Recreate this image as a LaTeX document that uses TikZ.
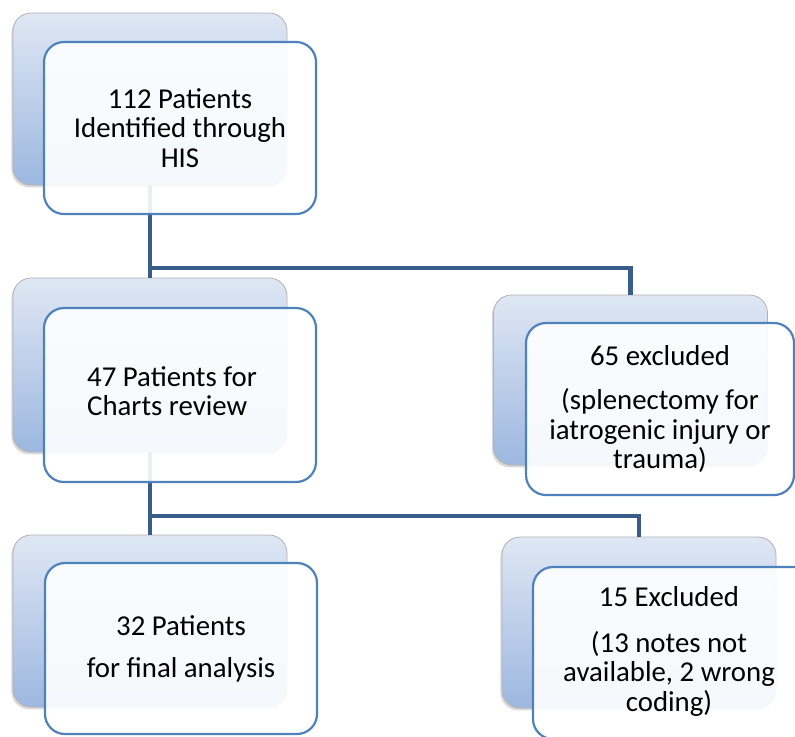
\documentclass[tikz,border=0pt]{standalone}
\usepackage{fontspec}
\setmainfont{Carlito}
\usetikzlibrary{shadows}

\definecolor{boxedge}{HTML}{4F81BD}
\definecolor{linkblue}{HTML}{385D8A}
\definecolor{shadetop}{HTML}{DFE7F4}
\definecolor{shadebot}{HTML}{9DB7E0}

\tikzset{
  backbox/.style={rectangle, rounded corners=9pt, draw=gray!60, line width=0.4pt,
    top color=shadetop, bottom color=shadebot,
    drop shadow={shadow xshift=-0.8pt, shadow yshift=-1.2pt, opacity=0.3},
    minimum width=137pt, minimum height=86pt, inner sep=0pt},
  frontbox/.style={rectangle, rounded corners=10pt, draw=boxedge, line width=1.1pt,
    fill=white, fill opacity=0.9, text opacity=1, align=center,
    font=\fontsize{14.4}{14.6}\selectfont,
    minimum width=136pt, minimum height=86pt, inner sep=0pt},
  link/.style={draw=linkblue, line width=2.2pt}
}

\begin{document}
\begin{tikzpicture}[x=0.5pt, y=-0.5pt]
\useasboundingbox (0,0) rectangle (795,736);
\clip (0,0) rectangle (795,736);

% back boxes
\node (hisback)   [backbox] at (150,99) {};
\node (chartback) [backbox, minimum height=87pt] at (150,365) {};
\node (exaback)   [backbox, minimum height=85pt] at (630.5,380) {};
\node (finback)   [backbox] at (150,621) {};
\node (exbback)   [backbox, minimum height=85.5pt] at (639,622.5) {};

% connectors
\coordinate (split1) at (150,268);
\coordinate (split2) at (150,516);
\draw[link] (hisback.south) -- (split1) -- (chartback.north);
\draw[link] (split1) -| (exaback.north);
\draw[link] (chartback.south) -- (split2) -- (finback.north);
\draw[link] (split2) -| (exbback.north);

% front boxes
\node (his) [frontbox] at (180,128) {112 Patients\\Identified through\\HIS};
\node (chart) [frontbox, minimum height=87pt] at (180,395)
  {\begin{tabular}{@{}l@{\hspace{8pt}}}47 Patients for\\Charts review\end{tabular}};
\node (exa) [frontbox, minimum width=134pt] at (660,409) {65 excluded\\[7.5pt](splenectomy for\\iatrogenic injury or\\trauma)};
\node (fin) [frontbox, minimum height=85.5pt] at (181,648.5) {32 Patients\\[6.5pt]for final analysis};
\node (exb) [frontbox, minimum width=150pt] at (683,653)
  {\begin{tabular}{@{}c@{\hspace{14pt}}}15 Excluded\\[8pt](13 notes not\\available, 2 wrong\\coding)\end{tabular}};
\end{tikzpicture}
\end{document}
